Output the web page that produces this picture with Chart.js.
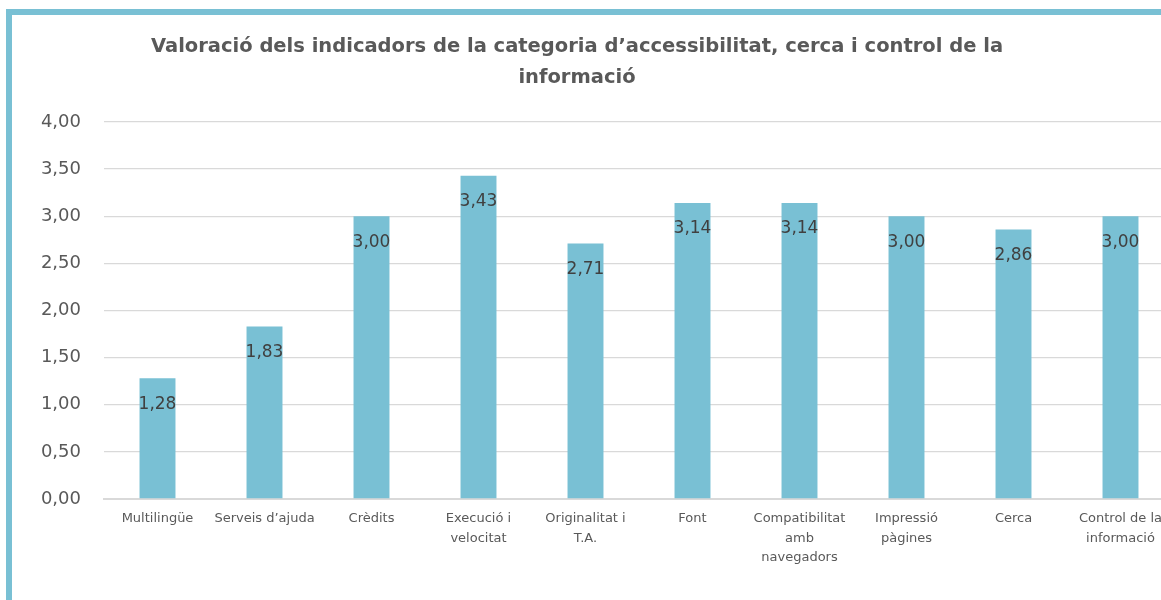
<!DOCTYPE html>
<html>
<head>
<meta charset="utf-8">
<script src="https://cdn.jsdelivr.net/npm/chart.js@4/dist/chart.umd.min.js"></script>
<style>
  html, body { margin: 0; padding: 0; background: #fff; overflow: hidden; width: 1161px; height: 600px; }
  #frame {
    position: absolute; left: 6px; top: 9px; width: 1200px; height: 600px;
    border-left: 6px solid #79c0d4; border-top: 6px solid #79c0d4;
  }
  #myChart { position: absolute; left: 0; top: 0; }
</style>
</head>
<body>
<div id="frame"><canvas id="myChart" width="1175" height="585"></canvas></div>
<script>
var titleLines = ['Valoració dels indicadors de la categoria d’accessibilitat, cerca i control de la', 'informació'];
var categories = [
  'Multilingüe',
  'Serveis d’ajuda',
  'Crèdits',
  ['Execució i', 'velocitat'],
  ['Originalitat i', 'T.A.'],
  'Font',
  ['Compatibilitat', 'amb', 'navegadors'],
  ['Impressió', 'pàgines'],
  'Cerca',
  ['Control de la', 'informació']
];
var valors = [1.28, 1.83, 3.00, 3.43, 2.71, 3.14, 3.14, 3.00, 2.86, 3.00];

function comma(v) {
  return Number(v).toFixed(2).replace('.', ',');
}

var textColor = '#595959';
var fontName = '"DejaVu Sans", sans-serif';

// title drawn by hand so it can sit off-centre like the original
var titlePlugin = {
  id: 'titleLines',
  afterDraw: function (chart) {
    var c = chart.ctx;
    c.save();
    c.fillStyle = textColor;
    c.font = 'bold 19.5px ' + fontName;
    c.textAlign = 'center';
    c.textBaseline = 'alphabetic';
    c.fillText(titleLines[0], 565, 37);
    c.fillText(titleLines[1], 565, 68);
    c.restore();
  }
};

var labelPlugin = {
  id: 'barLabels',
  afterDatasetsDraw: function (chart) {
    var c = chart.ctx;
    var meta = chart.getDatasetMeta(0);
    c.save();
    c.fillStyle = '#404040';
    c.font = '17px ' + fontName;
    c.textAlign = 'center';
    c.textBaseline = 'middle';
    meta.data.forEach(function (bar, i) {
      c.fillText(comma(valors[i]), bar.x, bar.y + 26);
    });
    c.restore();
  }
};

document.addEventListener('DOMContentLoaded', function () {
  var ctx = document.getElementById('myChart').getContext('2d');
  var myChart = new Chart(ctx, {
    type: 'bar',
    data: {
      labels: categories,
      datasets: [{
        data: valors,
        backgroundColor: '#79c0d4',
        borderWidth: 0,
        categoryPercentage: 1,
        barPercentage: 0.336
      }]
    },
    options: {
      responsive: false,
      animation: false,
      layout: { padding: { top: 107, right: 13, left: 0, bottom: 0 } },
      plugins: {
        legend: { display: false },
        tooltip: { enabled: false },
        title: { display: false }
      },
      scales: {
        y: {
          min: 0,
          max: 4,
          ticks: {
            stepSize: 0.5,
            color: textColor,
            padding: 23,
            font: { family: fontName, size: 18 },
            callback: function (v) { return comma(v); }
          },
          grid: { color: '#d9d9d9', lineWidth: 1.3, drawTicks: false },
          border: { display: false },
          afterFit: function (scale) { scale.width = 92; }
        },
        x: {
          ticks: {
            color: textColor,
            padding: 10,
            maxRotation: 0,
            autoSkip: false,
            font: { family: fontName, size: 13, lineHeight: 1.5 }
          },
          grid: { display: false, drawTicks: false },
          border: { display: true, color: '#d9d9d9', width: 2 },
          afterFit: function (scale) { scale.height = 101; }
        }
      }
    },
    plugins: [titlePlugin, labelPlugin]
  });
});
</script>
</body>
</html>
